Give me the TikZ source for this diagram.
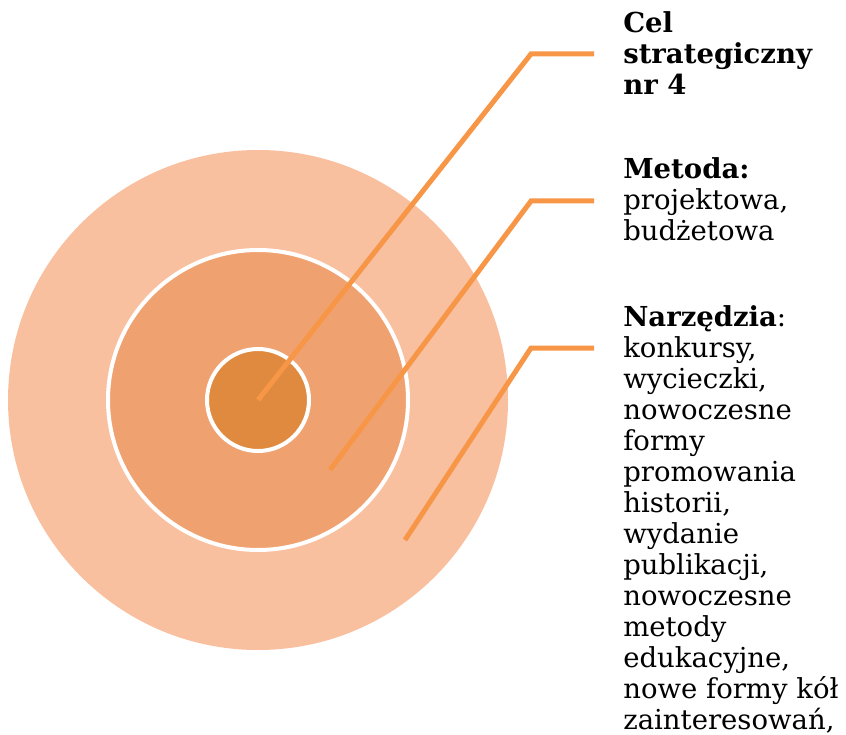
\documentclass[tikz,border=0pt]{standalone}
\usepackage{fontspec}
\setmainfont{DejaVu Serif}
\usepackage{tikz}
\definecolor{lpeach}{RGB}{249,192,160}
\definecolor{mpeach}{RGB}{240,161,112}
\definecolor{dorange}{RGB}{224,138,64}
\definecolor{lineorange}{RGB}{247,150,70}

\begin{document}
\begin{tikzpicture}[x=1pt,y=-1pt,line width=5pt,semithick]
      \tikzstyle{ring}=[circle,draw=white,line width=4pt,inner sep=0pt]
      \tikzstyle{leader}=[draw=lineorange,line width=5pt]
      \tikzstyle{label}=[anchor=north west,inner sep=0pt,align=left,font=\fontsize{27.5}{31}\selectfont]
      \useasboundingbox (0,0) rectangle (846,735);
      % circles
      \node [circle,fill=lpeach,inner sep=0pt,minimum size=500pt] (outer) at (258,400) {};
      \node [ring,fill=mpeach,minimum size=300pt] (middle) at (258,400) {};
      \node [ring,fill=dorange,minimum size=102pt] (inner) at (258,400) {};
      % labels
      \node [label] (cel) at (623,11) {\textbf{Cel}\\\textbf{strategiczny}\\\textbf{nr 4}};
      \node [label] (metoda) at (623,157) {\textbf{Metoda:}\\projektowa,\\budżetowa};
      \node [label] (narzedzia) at (623,305) {\textbf{Narzędzia}:\\konkursy,\\wycieczki,\\nowoczesne\\formy\\promowania\\historii,\\wydanie\\publikacji,\\nowoczesne\\metody\\edukacyjne,\\nowe formy kół\\zainteresowań,};
      % leaders
      \coordinate (s1) at (258,400);
      \coordinate (k1) at (531,54);
      \coordinate (e1) at (594,54);
      \coordinate (s2) at (330,470);
      \coordinate (k2) at (531,201);
      \coordinate (e2) at (594,201);
      \coordinate (s3) at (405,540);
      \coordinate (k3) at (531,348);
      \coordinate (e3) at (594,348);
      \draw [leader] (s1) -- (k1) -- (e1);
      \draw [leader] (s2) -- (k2) -- (e2);
      \draw [leader] (s3) -- (k3) -- (e3);
\end{tikzpicture}
\end{document}
